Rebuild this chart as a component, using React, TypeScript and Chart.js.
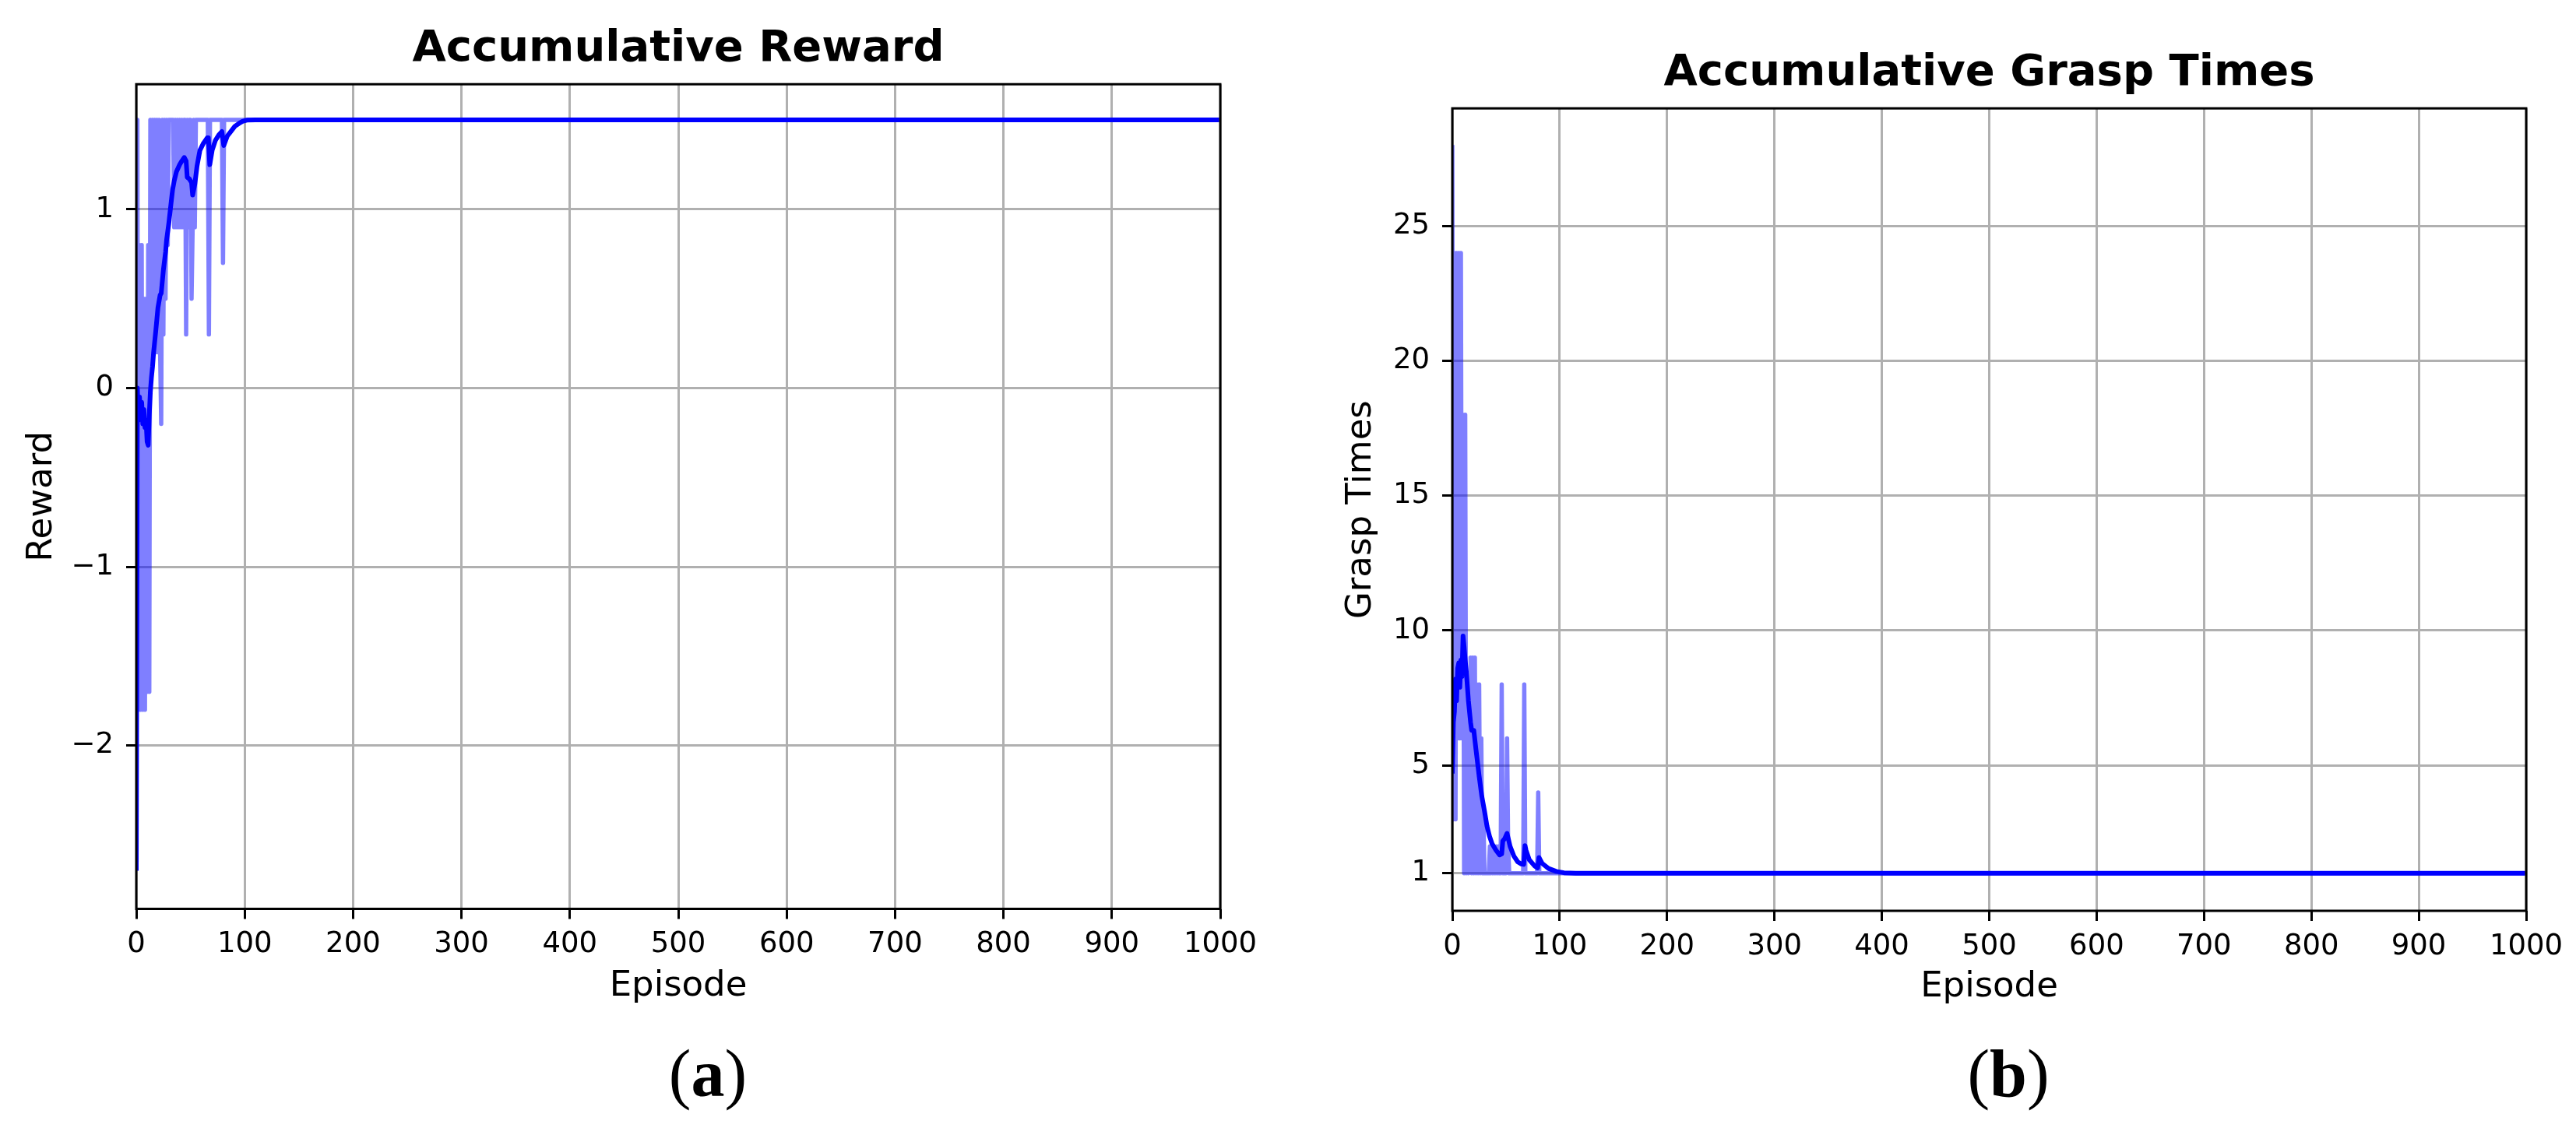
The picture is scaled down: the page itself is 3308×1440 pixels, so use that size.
import React, { useEffect, useRef } from 'react';
import { Chart, registerables } from 'chart.js';

Chart.register(...registerables);

// ---------------- data ----------------
const EPISODE_MIN = 0;
const EPISODE_MAX = 1000;
const EPISODE_STEP = 100;
const LAST_EPISODE = 999;

// raw reward per episode (episodes 0..85), then constant to the last episode
const rewardRaw = [
  -2.7, 1.5, -1.8, 0.8, -1.8, 0.8, -1.8, 0.5, -1.8, 0.5,
  -1.7, 0.8, -1.7, 1.5, 0.2, 1.5, 0.2, 1.5, 0.2, 1.5,
  0.2, 1.5, 0.2, -0.2, 1.5, 0.3, 1.5, 0.5, 1.5, 0.8,
  1.5, 1.5, 1.5, 1.5, 1.5, 0.9, 1.5, 0.9, 1.5, 0.9,
  1.5, 0.9, 1.5, 0.9, 1.5, 1.5, 0.3, 1.5, 0.9, 1.5,
  1.5, 0.5, 0.9, 1.5, 0.9, 1.5, 1.5, 1.5, 1.5, 1.5,
  1.5, 1.5, 1.5, 1.5, 1.5, 1.5, 1.5, 0.3, 1.5, 1.5,
  1.5, 1.5, 1.5, 1.5, 1.5, 1.5, 1.5, 1.5, 1.5, 1.5,
  0.7, 1.5, 1.5, 1.5, 1.5, 1.5,
];
const rewardRawTail = 1.5;

const rewardSmoothEpisodes = [
  0, 1, 2, 3, 4, 5, 6, 7, 8, 9, 10, 11, 12, 13, 14, 15, 16, 18, 20, 22, 23, 25, 27, 28, 30,
  32, 33.5, 35, 37, 40, 42, 44.3, 46, 47, 49, 51, 52, 54, 56, 58.7, 62, 65.5, 66.5, 67.8,
  70, 73, 76, 79, 80.7, 84, 87.4, 91, 94.6, 98, 102, 110, 999,
];
const rewardSmoothValues = [
  -2.7, 0.0, -0.18, -0.05, -0.15, -0.08, -0.2, -0.12, -0.22, -0.18, -0.3, -0.32, -0.15, -0.02, 0.06, 0.12, 0.2, 0.32, 0.45, 0.52, 0.53, 0.66, 0.76, 0.83, 0.92,
  1.03, 1.11, 1.16, 1.21, 1.25, 1.27, 1.29, 1.27, 1.18, 1.17, 1.15, 1.08, 1.14, 1.24, 1.33, 1.37, 1.4, 1.4, 1.25,
  1.33, 1.386, 1.415, 1.435, 1.357, 1.41, 1.437, 1.465, 1.48, 1.492, 1.499, 1.5, 1.5,
];
const rewardTicks = [-2, -1, 0, 1];
const rewardAxisMin = -2.914;
const rewardAxisMax = 1.7;

// raw grasp times per episode (episodes 0..85), then constant to the last episode
const graspRaw = [
  28, 3, 24, 3, 24, 6, 24, 6, 24, 6,
  18, 1, 18, 1, 5, 1, 5, 9, 1, 9,
  1, 9, 1, 8, 1, 8, 1, 6, 1, 3,
  1, 1, 1, 1, 1, 2, 1, 2, 1, 2,
  1, 2, 1, 2, 1, 1, 8, 1, 2, 1,
  1, 6, 2, 1, 1, 1, 1, 1, 1, 1,
  1, 1, 1, 1, 1, 1, 1, 8, 1, 1,
  1, 1, 1, 1, 1, 1, 1, 1, 1, 1,
  4, 1, 1, 1, 1, 1,
];
const graspRawTail = 1;

const graspSmoothEpisodes = [
  0, 1, 2, 3, 4, 5, 6, 7, 8, 9, 10, 11, 12, 13, 15, 17, 18, 20, 22, 25, 27.5, 30, 32.3,
  34.6, 37, 40.6, 44, 46, 47, 49, 51, 53.8, 57.3, 61, 64, 66.5, 67.7, 68.7, 71.7, 76.5,
  79.5, 80.7, 83.6, 89.6, 96.8, 104, 115, 999,
];
const graspSmoothValues = [
  4.7, 6.6, 7.0, 8.2, 7.4, 8.6, 8.8, 7.9, 8.9, 8.3, 9.8, 9.4, 8.9, 8.5, 7.4, 6.6, 6.3, 6.3, 5.6, 4.6, 3.85, 3.3, 2.75,
  2.38, 2.1, 1.86, 1.68, 1.72, 2.2, 2.3, 2.48, 2.0, 1.64, 1.42, 1.35, 1.33, 2.03, 1.85, 1.5, 1.28,
  1.2, 1.59, 1.37, 1.18, 1.07, 1.02, 1.0, 1.0,
];
const graspTicks = [1, 5, 10, 15, 20, 25];
const graspAxisMin = -0.39;
const graspAxisMax = 29.36;

// ---------------- helpers ----------------
const FONT = "'DejaVu Sans', 'Liberation Sans', sans-serif";

const rawPoints = (values: number[], tail: number) => {
  const pts = values.map((v, i) => ({ x: i, y: v }));
  pts.push({ x: LAST_EPISODE, y: tail });
  return pts;
};
const pairPoints = (eps: number[], vals: number[]) => eps.map((e, i) => ({ x: e, y: vals[i] }));

const fmtTick = (v: any) => {
  const n = Number(v);
  return n < 0 ? '\u2212' + String(Math.abs(n)) : String(n);
};

const spinePlugin = {
  id: 'spines',
  afterDatasetsDraw(chart: any) {
    const { ctx, chartArea } = chart;
    ctx.save();
    ctx.strokeStyle = '#000';
    ctx.lineWidth = 3;
    ctx.strokeRect(chartArea.left, chartArea.top, chartArea.right - chartArea.left, chartArea.bottom - chartArea.top);
    ctx.restore();
  },
};

type Spec = {
  title: string;
  yLabel: string;
  raw: { x: number; y: number }[];
  smooth: { x: number; y: number }[];
  yMin: number;
  yMax: number;
  yTicks: number[];
  padding: { left: number; right: number; top: number; bottom: number };
  yAxisWidth: number;
  xAxisHeight: number;
};

function makeChart(canvas: HTMLCanvasElement, spec: Spec) {
  const grid = {
    color: '#b0b0b0',
    lineWidth: 3,
    tickColor: '#000',
    tickWidth: 3,
    tickLength: 13,
    drawTicks: true,
  };
  return new Chart(canvas, {
    type: 'scatter',
    data: {
      datasets: [
        {
          label: 'smoothed',
          data: spec.smooth,
          showLine: true,
          borderColor: '#0000ff',
          backgroundColor: '#0000ff',
          borderWidth: 6,
          pointRadius: 0,
          pointHoverRadius: 0,
          tension: 0,
          borderJoinStyle: 'round',
          order: 0,
        },
        {
          label: 'raw',
          data: spec.raw,
          showLine: true,
          borderColor: 'rgba(0,0,255,0.5)',
          backgroundColor: 'rgba(0,0,255,0.5)',
          borderWidth: 5.5,
          pointRadius: 0,
          pointHoverRadius: 0,
          tension: 0,
          borderJoinStyle: 'round',
          order: 1,
        },
      ],
    },
    options: {
      responsive: false,
      animation: false,
      devicePixelRatio: 1,
      events: [],
      layout: { padding: spec.padding },
      plugins: {
        legend: { display: false },
        tooltip: { enabled: false },
        title: {
          display: true,
          text: spec.title,
          color: '#000',
          fullSize: false,
          font: { family: FONT, size: 56, weight: 'bold', lineHeight: 1.2 },
          padding: { top: 30, bottom: 11 },
        },
      },
      scales: {
        x: {
          type: 'linear',
          min: EPISODE_MIN,
          max: EPISODE_MAX,
          afterFit: (s: any) => {
            s.height = spec.xAxisHeight;
          },
          ticks: {
            stepSize: EPISODE_STEP,
            autoSkip: false,
            maxRotation: 0,
            color: '#000',
            font: { family: FONT, size: 37 },
            padding: 11,
            callback: (v: any) => fmtTick(v),
          },
          grid,
          border: { display: false },
          title: {
            display: true,
            text: 'Episode',
            color: '#000',
            font: { family: FONT, size: 45, lineHeight: 1.2 },
            padding: 0,
          },
        },
        y: {
          type: 'linear',
          min: spec.yMin,
          max: spec.yMax,
          afterFit: (s: any) => {
            s.width = spec.yAxisWidth;
          },
          afterBuildTicks: (s: any) => {
            s.ticks = spec.yTicks.map((v) => ({ value: v }));
          },
          ticks: {
            autoSkip: false,
            color: '#000',
            font: { family: FONT, size: 37 },
            padding: 16,
            callback: (v: any) => fmtTick(v),
          },
          grid,
          border: { display: false },
          title: {
            display: true,
            text: spec.yLabel,
            color: '#000',
            font: { family: FONT, size: 45, lineHeight: 1.2 },
            padding: 0,
          },
        },
      },
    } as any,
    plugins: [spinePlugin],
  });
}

function Panel(props: { spec: Spec; left: number; top: number; width: number; height: number }) {
  const ref = useRef<HTMLCanvasElement | null>(null);
  useEffect(() => {
    if (!ref.current) return;
    const chart = makeChart(ref.current, props.spec);
    return () => chart.destroy();
  }, []);
  return (
    <canvas
      ref={ref}
      width={props.width}
      height={props.height}
      style={{ position: 'absolute', left: props.left, top: props.top, width: props.width, height: props.height }}
    />
  );
}

const rewardSpec: Spec = {
  title: 'Accumulative Reward',
  yLabel: 'Reward',
  raw: rawPoints(rewardRaw, rewardRawTail),
  smooth: pairPoints(rewardSmoothEpisodes, rewardSmoothValues),
  yMin: rewardAxisMin,
  yMax: rewardAxisMax,
  yTicks: rewardTicks,
  padding: { left: 27, right: 87, top: 0, bottom: 35.5 },
  yAxisWidth: 148,
  xAxisHeight: 127,
};

const graspSpec: Spec = {
  title: 'Accumulative Grasp Times',
  yLabel: 'Grasp Times',
  raw: rawPoints(graspRaw, graspRawTail),
  smooth: pairPoints(graspSmoothEpisodes, graspSmoothValues),
  yMin: graspAxisMin,
  yMax: graspAxisMax,
  yTicks: graspTicks,
  padding: { left: 67.4, right: 64, top: 0, bottom: 66 },
  yAxisWidth: 143.6,
  xAxisHeight: 125,
};

const captionStyle = (cx: number): React.CSSProperties => ({
  position: 'absolute',
  left: cx - 150,
  top: 1336,
  width: 300,
  textAlign: 'center',
  fontFamily: "'Liberation Serif', 'Times New Roman', serif",
  fontSize: 86,
  lineHeight: '86px',
  color: '#000',
});

export default function App() {
  return (
    <div style={{ position: 'absolute', left: 0, top: 0, width: 3308, height: 1440, background: '#fff', overflow: 'hidden' }}>
      <Panel spec={rewardSpec} left={0} top={0} width={1654} height={1330} />
      <Panel spec={graspSpec} left={1654} top={31} width={1654} height={1330} />
      <div style={captionStyle(909)}>
        (<b>a</b>)
      </div>
      <div style={captionStyle(2579)}>
        (<b>b</b>)
      </div>
    </div>
  );
}
